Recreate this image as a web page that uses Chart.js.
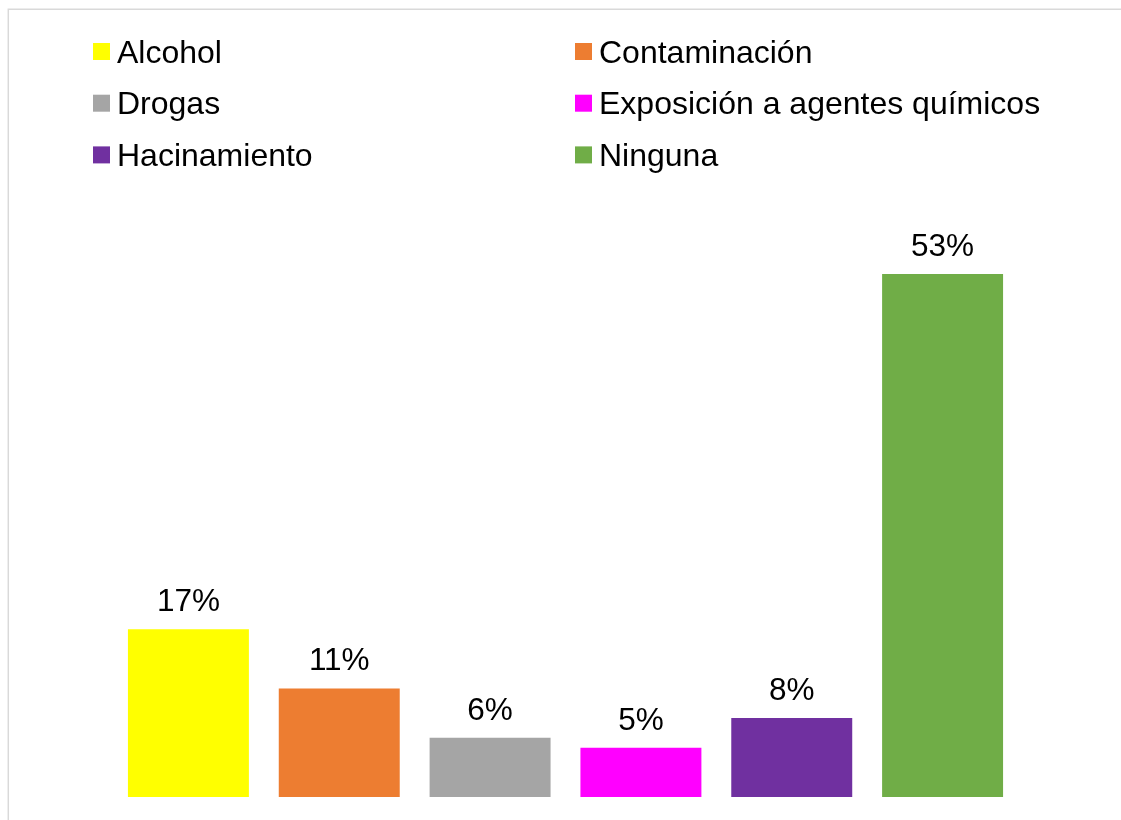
<!DOCTYPE html>
<html>
<head>
<meta charset="utf-8">
<script src="https://cdn.jsdelivr.net/npm/chart.js@4"></script>
<style>
  html, body { margin: 0; padding: 0; background: #fff; }
  #wrap { position: relative; width: 1121px; height: 820px; }
</style>
</head>
<body>
<div id="wrap"><canvas id="myChart"></canvas></div>
<script>
var categories = ["Alcohol", "Contaminación", "Drogas", "Exposición a agentes químicos", "Hacinamiento", "Ninguna"];
var values = [17, 11, 6, 5, 8, 53];
var colors = ["#ffff00", "#ed7d31", "#a5a5a5", "#ff00ff", "#7030a0", "#70ad47"];

var LABEL_FONT = '31.5px "Liberation Sans", Arial, sans-serif';
var LEGEND_FONT = '32px "Liberation Sans", Arial, sans-serif';

// light frame along the top and left edge
var frame = {
    id: 'frame',
    beforeDraw: function (chart) {
        var c = chart.ctx;
        c.save();
        c.strokeStyle = '#d9d9d9';
        c.lineWidth = 1.5;
        c.beginPath();
        c.moveTo(8.3, chart.height + 5);
        c.lineTo(8.3, 9.2);
        c.lineTo(chart.width + 5, 9.2);
        c.stroke();
        c.restore();
    }
};

// two-column legend above the plot
var columnLegend = {
    id: 'columnLegend',
    afterDraw: function (chart) {
        var c = chart.ctx;
        var cols = [93, 575];
        c.save();
        c.font = LEGEND_FONT;
        c.textAlign = 'left';
        c.textBaseline = 'alphabetic';
        categories.forEach(function (name, i) {
            var x = cols[i % 2];
            var y = 43 + Math.floor(i / 2) * 51.7;
            c.fillStyle = colors[i];
            c.fillRect(x, y, 17, 17);
            c.fillStyle = '#000';
            c.fillText(name, x + 24, y + 19.5);
        });
        c.restore();
    }
};

// percentage above every bar
var valueLabels = {
    id: 'valueLabels',
    afterDatasetsDraw: function (chart) {
        var c = chart.ctx;
        var meta = chart.getDatasetMeta(0);
        c.save();
        c.font = LABEL_FONT;
        c.textAlign = 'center';
        c.textBaseline = 'alphabetic';
        c.fillStyle = '#000';
        meta.data.forEach(function (bar, i) {
            c.fillText(values[i] + '%', bar.x, bar.y - 18);
        });
        c.restore();
    }
};

var ctx = document.getElementById('myChart').getContext('2d');

var chart = new Chart(ctx, {
    type: 'bar',
    data: {
        labels: categories,
        datasets: [
            {
                data: values,
                backgroundColor: colors,
                borderWidth: 0,
                barPercentage: 0.802,
                categoryPercentage: 1
            }
        ]
    },
    options: {
        responsive: true,
        maintainAspectRatio: false,
        animation: false,
        layout: { padding: { left: 113, right: 103, top: 205, bottom: 23 } },
        scales: {
            x: { display: false },
            y: { display: false, min: 0, max: 60 }
        },
        plugins: {
            legend: { display: false },
            tooltip: { enabled: false }
        }
    },
    plugins: [frame, valueLabels, columnLegend]
});
</script>
</body>
</html>
